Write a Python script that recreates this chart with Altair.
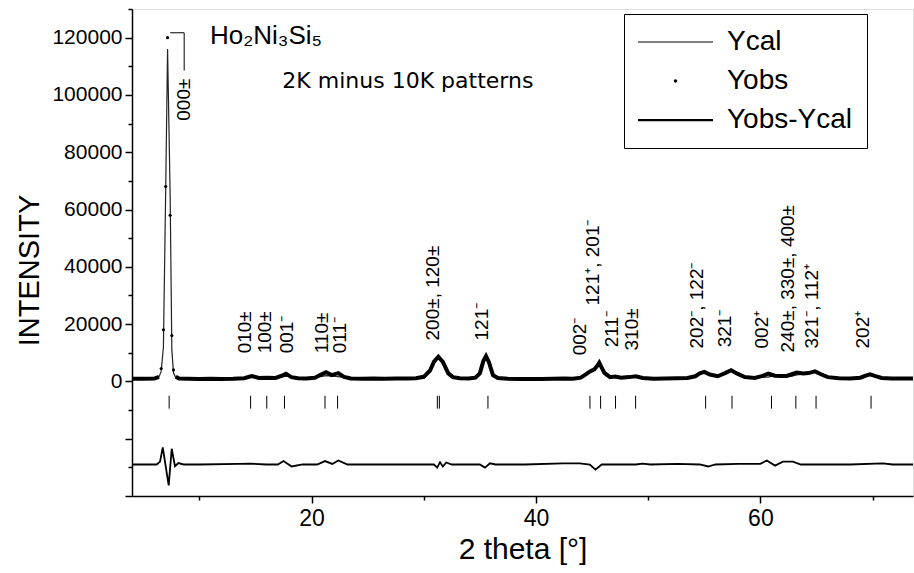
import altair as alt
import pandas as pd

# ---------------- data ----------------
# 2theta grid of the observed / calculated profile (degrees)
two_theta = [4.0, 5.0, 6.0, 6.4, 6.6, 6.8, 7.0, 7.17, 7.4, 7.55,
             7.7, 7.9, 8.2, 9.0, 10.0, 11.0, 12.0, 13.0, 14.0, 14.66,
             15.3, 16.0, 16.8, 17.3, 17.72, 18.2, 18.8, 19.5, 20.3, 20.8,
             21.29, 21.8, 22.39, 22.9, 23.5, 24.5, 25.5, 26.5, 27.5, 28.5,
             29.3, 30.0, 30.56, 30.9, 31.3, 31.7, 32.19, 32.6, 33.2, 34.0,
             34.6, 35.0, 35.3, 35.55, 35.8, 36.17, 36.6, 37.5, 38.5, 39.5,
             40.5, 41.5, 42.5, 43.3, 44.0, 44.5, 44.82, 45.2, 45.65, 46.1,
             46.6, 47.05, 47.6, 48.3, 48.9, 49.5, 50.5, 51.5, 52.5, 53.5,
             54.2, 54.6, 55.0, 55.5, 56.2, 56.9, 57.39, 57.9, 58.6, 59.5,
             60.2, 60.7, 61.3, 61.8, 62.34, 62.8, 63.24, 63.8, 64.3, 64.87,
             65.4, 66.0, 67.0, 68.0, 68.9, 69.4, 69.77, 70.2, 70.8, 71.7,
             72.6, 73.6]

y_obs = [900, 900, 1000, 1600, 4500, 18000, 68000, 120000, 58000, 16000,
         4000, 1600, 1000, 900, 800, 900, 800, 900, 1100, 1900,
         1200, 1300, 1200, 1900, 2700, 1500, 1100, 1000, 1300, 2300,
         3200, 2200, 2900, 1600, 1000, 900, 1000, 900, 1000, 1000,
         1100, 1600, 3800, 6800, 8600, 6800, 2800, 1500, 1100, 1000,
         1300, 2800, 7000, 8800, 6800, 2200, 1200, 900, 800, 800,
         800, 900, 1000, 900, 1300, 2600, 3500, 4200, 6400, 3000,
         1500, 1700, 1300, 1500, 1800, 1200, 900, 1000, 1100, 1200,
         1800, 2800, 3300, 2400, 1800, 3000, 3900, 2800, 1500, 1200,
         1900, 2700, 2000, 1900, 1900, 2500, 3100, 2800, 2900, 3500,
         2500, 1500, 1100, 1000, 1300, 2000, 2500, 1900, 1200, 1000,
         1000, 1000]

y_cal = [900, 900, 1000, 1500, 3500, 12000, 66000, 116000, 65000, 11000,
         3000, 1300, 1000, 900, 850, 850, 850, 900, 1000, 1700,
         1200, 1300, 1200, 1500, 1800, 1700, 1100, 1000, 1200, 1700,
         2000, 1800, 1700, 1300, 1000, 900, 950, 950, 1000, 1000,
         1100, 1600, 3900, 6900, 8400, 6600, 2800, 1500, 1100, 1000,
         1300, 2900, 7500, 8900, 6700, 2100, 1200, 900, 800, 800,
         800, 850, 800, 800, 1300, 2600, 3500, 4600, 7500, 3000,
         1500, 1700, 1300, 1500, 1800, 1000, 900, 1000, 1000, 1200,
         1800, 2900, 3600, 2500, 1800, 3000, 3900, 2800, 1500, 1200,
         1500, 1500, 2200, 1800, 1800, 1800, 2300, 2500, 2800, 3400,
         2500, 1500, 1100, 1000, 1300, 2000, 2300, 1800, 1200, 1000,
         1000, 1000]

# difference curve (drawn with its offset, as in the figure)
diff_theta = [4.0, 6.2, 6.5, 6.74, 7.27, 7.54, 7.83, 8.13, 8.6, 10.0,
              13.5, 14.6, 16.0, 17.0, 17.5, 18.23, 19.2, 20.5, 21.2, 21.85,
              22.39, 23.2, 26.0, 29.0, 30.9, 31.2, 31.45, 31.7, 32.0, 32.5,
              35.0, 35.46, 35.9, 36.4, 39.0, 42.4, 43.9, 44.8, 45.3, 45.86,
              48.9, 49.5, 50.2, 52.66, 54.6, 55.34, 56.0, 58.0, 60.0, 60.57,
              61.31, 62.0, 62.9, 63.6, 66.0, 68.0, 70.9, 71.8, 73.6]
diff_vals = [-29000, -29000, -28000, -23000, -36300, -23500, -29600, -28500, -29000, -29000,
             -28800, -28700, -29000, -29000, -27800, -29700, -29000, -29000, -27800, -28800,
             -27600, -29000, -29000, -29000, -29000, -30100, -28200, -29700, -28300, -29000,
             -29000, -30100, -28600, -29000, -29000, -28600, -28600, -29000, -30800, -29000,
             -29000, -28700, -29000, -28800, -29000, -29700, -29000, -28800, -28800, -27600,
             -29400, -28000, -28000, -29000, -29000, -29000, -28600, -29000, -29000]

# reflection positions (tick marks under the pattern)
reflections = [7.31, 14.57, 16.01, 17.59, 21.20, 22.32, 31.21, 31.39, 35.72, 44.81,
               45.76, 47.09, 48.88, 55.12, 57.47, 60.99, 63.16, 64.96, 69.86]
tick_top = -5000
tick_bottom = -9500

# hkl labels: text, 2theta of the label, intensity where the (rotated) label starts
hkl_text = ["000±", "010±", "100±", "001⁻", "110±", "011⁻", "200±, 120±", "121⁻",
            "002⁻", "121⁺, 201⁻", "211⁻", "310±", "202⁻, 122⁻", "321⁻", "002⁺",
            "240±, 330±, 400±", "321⁻, 112⁺", "202⁺"]
hkl_theta = [8.65, 14.07, 15.85, 17.81, 20.93, 22.54, 30.83, 35.19,
             43.93, 45.09, 46.78, 48.56, 54.36, 56.86, 60.16,
             62.47, 64.60, 69.15]
hkl_start = [91000, 9800, 9800, 9800, 9800, 9800, 14300, 14300,
             9100, 26500, 11900, 10800, 11500, 11900, 11500,
             10100, 11500, 11500]

# bracket linking the 000 peak to its label
bracket_theta = [7.4, 8.65, 8.65]
bracket_int = [121700, 121700, 108500]

legend_names = ["Ycal", "Yobs", "Yobs-Ycal"]

# ---------------- chart ----------------
FONT = "Liberation Sans, Arial, sans-serif"
NARROW = "Liberation Sans Narrow, Liberation Sans, Arial, sans-serif"
X_TITLE = "2 theta [°]"
Y_TITLE = "INTENSITY"

x_scale = alt.Scale(domain=[4, 73.6], nice=False, zero=False)
y_scale = alt.Scale(domain=[-40000, 130000], nice=False, zero=False)

x_axis = alt.Axis(
    values=[10, 20, 30, 40, 50, 60, 70],
    labelExpr="datum.value % 20 === 0 ? '' + datum.value : ''",
    tickSize={"condition": {"test": "datum.value % 20 === 0", "value": 7}, "value": 4},
    grid=False, domainColor="black", domainWidth=1.5, tickColor="black", tickWidth=1.5,
    labelFont=NARROW, labelFontSize=23, labelColor="black", labelPadding=4,
    labelOverlap=False, labelFlush=False,
    titleFont=NARROW, titleFontSize=30, titleFontWeight="normal", titleColor="black",
    titlePadding=4,
)
y_axis = alt.Axis(
    values=list(range(-40000, 130001, 10000)),
    labelExpr="datum.value >= 0 && datum.value % 20000 === 0 ? '' + datum.value : ''",
    tickSize={"condition": {"test": "datum.value % 20000 === 0", "value": 7}, "value": 4},
    grid=False, domainColor="black", domainWidth=1.5, tickColor="black", tickWidth=1.5,
    labelFont=FONT, labelFontSize=21, labelColor="black", labelPadding=3,
    labelOverlap=False, labelFlush=False,
    titleFont=FONT, titleFontSize=29, titleFontWeight="normal", titleColor="black",
    titleAngle=270, titleAlign="center", titleBaseline="middle", titleX=-103, titleY=261,
)


def X(field):
    return alt.X(field, type="quantitative", scale=x_scale, axis=x_axis, title=X_TITLE)


def Y(field):
    return alt.Y(field, type="quantitative", scale=y_scale, axis=y_axis, title=Y_TITLE)


profile = pd.DataFrame({"tt": two_theta, "yobs": y_obs, "ycal": y_cal})
profile["part"] = ["left" if t < 6.5 else ("right" if t > 7.8 else "peak") for t in two_theta]
diff_df = pd.DataFrame({"tt": diff_theta, "d": diff_vals})
refl_df = pd.DataFrame({"tt": reflections, "top": [tick_top] * len(reflections),
                        "bot": [tick_bottom] * len(reflections)})
hkl_df = pd.DataFrame({"tt": hkl_theta, "i": hkl_start, "txt": hkl_text})
br_df = pd.DataFrame({"tt": bracket_theta, "i": bracket_int, "o": list(range(len(bracket_theta)))})
title_df = pd.DataFrame({"tt": [10.95], "i": [117800], "txt": ["Ho₂Ni₃Si₅"]})
sub_df = pd.DataFrame({"tt": [17.4], "i": [105000], "txt": ["2K  minus 10K patterns"]})
leg_df = pd.DataFrame({"series": legend_names})

diff_line = alt.Chart(diff_df).mark_line(color="black", strokeWidth=1.8).encode(
    x=X("tt"), y=Y("d"))

ticks = alt.Chart(refl_df).mark_rule(color="black", strokeWidth=1).encode(
    x=X("tt"), y=Y("top"), y2="bot")

ycal_line = alt.Chart(profile).mark_line(color="#222", strokeWidth=1.2).encode(
    x=X("tt"), y=Y("ycal"))

yobs_line = alt.Chart(profile).transform_filter("datum.part !== 'peak'").mark_line(
    color="black", strokeWidth=4).encode(x=X("tt"), y=Y("yobs"), detail="part:N")

yobs_pts = alt.Chart(profile).transform_filter("datum.part === 'peak'").mark_circle(
    color="black", size=10, opacity=1).encode(x=X("tt"), y=Y("yobs"))

hkl_labels = alt.Chart(hkl_df).mark_text(
    angle=270, align="left", baseline="middle", font=FONT, fontSize=19, color="black"
).encode(x=X("tt"), y=Y("i"), text="txt:N")

bracket = alt.Chart(br_df).mark_line(color="black", strokeWidth=1).encode(
    x=X("tt"), y=Y("i"), order="o:Q")

title_txt = alt.Chart(title_df).mark_text(
    align="left", baseline="alphabetic", font=FONT, fontSize=26, color="black"
).encode(x=X("tt"), y=Y("i"), text="txt:N")

sub_txt = alt.Chart(sub_df).mark_text(
    align="left", baseline="middle", font="DejaVu Sans, sans-serif", fontSize=22, color="black"
).encode(x=X("tt"), y=Y("i"), text="txt:N")

# legend symbols: thin bar, small dot, thicker bar (filled paths)
SYM_YCAL = "M-1,-0.016H1V0.016H-1Z"
SYM_YOBS = "M-0.045,0A0.045,0.045,0,1,0,0.045,0A0.045,0.045,0,1,0,-0.045,0Z"
SYM_DIFF = "M-1,-0.03H1V0.03H-1Z"

leg = alt.Legend(
    title=None, orient="none", legendX=492, legendY=5, strokeColor="black", fillColor="white",
    padding=14, labelFont=FONT, labelFontSize=28, labelColor="black", labelOffset=14,
    labelLimit=0, rowPadding=11, clipHeight=28, symbolSize=5625,
    symbolFillColor="black", symbolStrokeColor="black", symbolStrokeWidth=0, symbolOpacity=1,
)
legend_layer = alt.Chart(leg_df).mark_point(opacity=0, filled=True, color="black").encode(
    shape=alt.Shape("series:N", scale=alt.Scale(domain=legend_names,
                    range=[SYM_YCAL, SYM_YOBS, SYM_DIFF]), legend=leg),
)

chart = alt.layer(
    diff_line, ticks, ycal_line, yobs_line, yobs_pts, hkl_labels, bracket,
    title_txt, sub_txt, legend_layer
).properties(
    width=781, height=487,
    padding={"left": 132, "top": 9, "right": 1, "bottom": 77},
    autosize=alt.AutoSizeParams(type="none"),
).configure_view(stroke=None).configure(background="white")

chart.save("out.html", embed_options={"renderer": "svg", "actions": False})
